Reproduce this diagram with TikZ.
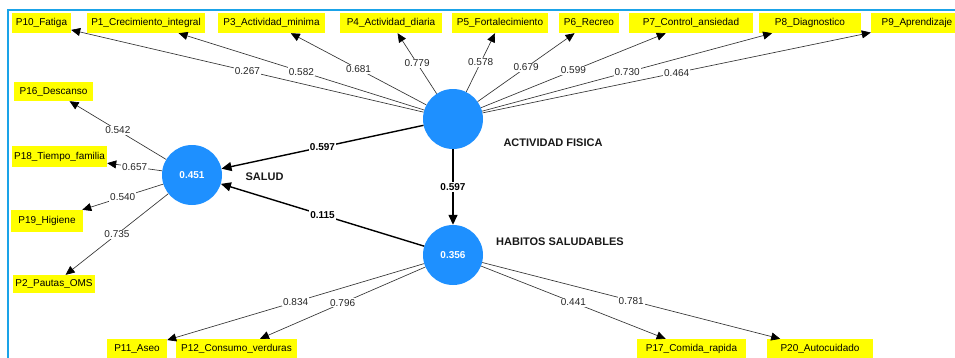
\documentclass[tikz,border=0pt]{standalone}
\usepackage{fontspec}
\setmainfont{Liberation Sans}
\usetikzlibrary{arrows.meta}
\definecolor{lvblue}{HTML}{1E90FF}
\definecolor{framecol}{HTML}{1AA3E8}
\definecolor{indyellow}{HTML}{FFFF00}
\begin{document}
\begin{tikzpicture}[x=1pt,y=-1pt,
  indbox/.style={fill=indyellow, inner sep=0pt, minimum height=20pt, font=\fontsize{10}{12}\selectfont, text=black},
  lvc/.style={circle, fill=lvblue, minimum size=60pt, inner sep=0pt, font=\bfseries\fontsize{10}{12}\selectfont, text=white},
  load/.style={draw=black!80, line width=0.65pt, -{Triangle[length=9pt,width=8pt,color=black]}},
  struct/.style={draw=black, line width=1.4pt, -{Triangle[length=10pt,width=9pt]}},
  lbl/.style={fill=white, inner sep=1pt, font=\fontsize{10}{12}\selectfont, text=black!85},
  plbl/.style={fill=white, inner sep=1pt, font=\bfseries\fontsize{10}{12}\selectfont, text=black},
  lvname/.style={font=\bfseries\fontsize{11}{13}\selectfont, text=black!90}]
\useasboundingbox (0,0) rectangle (955,357);
\fill[white] (0,0) rectangle (955,357);
\clip (0,0) rectangle (955,357);
\draw[framecol, line width=1.5pt] (8,360) -- (8,10) -- (960,10);

% latent variables
\node[lvc] (AF) at (453,119) {};
\node[lvc] (HS) at (453,255) {0.356};
\node[lvc] (SA) at (192,175) {0.451};
\node[lvname] (AFn) at (553,143) {ACTIVIDAD FISICA};
\node[lvname] (HSn) at (560,242) {HABITOS SALUDABLES};
\node[lvname] (SAn) at (264.5,177) {SALUD};

% top indicators
\node[indbox, minimum width=59pt]  (P10) at (41.5,23)  {P10\_Fatiga};
\node[indbox, minimum width=118pt] (P1)  at (146,23)   {P1\_Crecimiento\_integral};
\node[indbox, minimum width=107pt] (P3)  at (271.5,23) {P3\_Actividad\_minima};
\node[indbox, minimum width=102pt] (P4)  at (391,23)   {P4\_Actividad\_diaria};
\node[indbox, minimum width=96pt]  (P5)  at (500,23)   {P5\_Fortalecimiento};
\node[indbox, minimum width=60pt]  (P6)  at (589,23)   {P6\_Recreo};
\node[indbox, minimum width=124pt] (P7)  at (691,23)   {P7\_Control\_ansiedad};
\node[indbox, minimum width=102pt] (P8)  at (810,23)   {P8\_Diagnostico};
\node[indbox, minimum width=92pt]  (P9)  at (917,23)   {P9\_Aprendizaje};

% left indicators
\node[indbox, minimum width=79pt, minimum height=19pt] (P16) at (53.5,91.5) {P16\_Descanso};
\node[indbox, minimum width=95pt, minimum height=21pt] (P18) at (59.5,156.5) {P18\_Tiempo\_familia};
\node[indbox, minimum width=72pt, minimum height=22pt] (P19) at (47,221) {P19\_Higiene};
\node[indbox, minimum width=82pt, minimum height=18pt] (P2)  at (54,284) {P2\_Pautas\_OMS};

% bottom indicators
\node[indbox, minimum width=60pt]  (P11) at (137,349)   {P11\_Aseo};
\node[indbox, minimum width=121pt] (P12) at (236.5,349) {P12\_Consumo\_verduras};
\node[indbox, minimum width=109pt] (P17) at (691.5,349) {P17\_Comida\_rapida};
\node[indbox, minimum width=106pt] (P20) at (820,349)   {P20\_Autocuidado};

% outer loadings: ACTIVIDAD FISICA
\draw[load] (AF) -- node[lbl] (l10) {0.267} (P10);
\draw[load] (AF) -- node[lbl] (l1)  {0.582} (P1);
\draw[load] (AF) -- node[lbl] (l3)  {0.681} (P3);
\draw[load] (AF) -- node[lbl] (l4)  {0.779} (P4);
\draw[load] (AF) -- node[lbl] (l5)  {0.578} (P5);
\draw[load] (AF) -- node[lbl] (l6)  {0.679} (P6);
\draw[load] (AF) -- node[lbl] (l7)  {0.599} (P7);
\draw[load] (AF) -- node[lbl] (l8)  {0.730} (P8);
\draw[load] (AF) -- node[lbl] (l9)  {0.464} (P9);

% outer loadings: SALUD
\draw[load] (SA) -- node[lbl] (l16) {0.542} (P16);
\draw[load] (SA) -- node[lbl] (l18) {0.657} (P18);
\draw[load] (SA) -- node[lbl] (l19) {0.540} (P19);
\draw[load] (SA) -- node[lbl] (l2)  {0.735} (P2);

% outer loadings: HABITOS SALUDABLES
\draw[load] (HS) -- node[lbl] (l11) {0.834} (P11);
\draw[load] (HS) -- node[lbl] (l12) {0.796} (P12);
\draw[load] (HS) -- node[lbl] (l17) {0.441} (P17);
\draw[load] (HS) -- node[lbl] (l20) {0.781} (P20);

% structural paths
\draw[struct] (AF) -- node[plbl] (s1) {0.597} (SA);
\draw[struct] (AF) -- node[plbl] (s2) {0.597} (HS);
\draw[struct] (HS) -- node[plbl] (s3) {0.115} (SA);
\end{tikzpicture}
\end{document}
